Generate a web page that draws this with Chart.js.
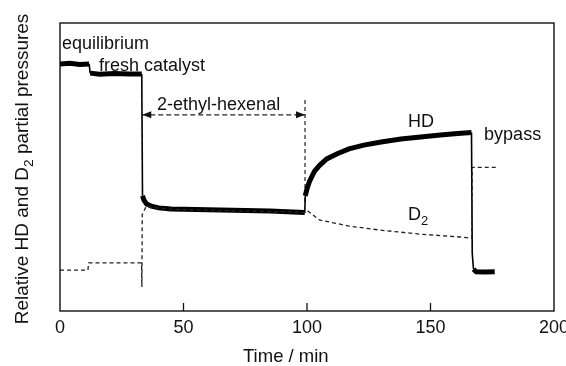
<!DOCTYPE html>
<html>
<head>
<meta charset="utf-8">
<script src="https://cdn.jsdelivr.net/npm/chart.js@4"></script>
<style>
  html, body { margin: 0; padding: 0; background: #fff; }
  #wrap { width: 566px; height: 366px; }
</style>
</head>
<body>
<div id="wrap"><canvas id="chart" width="566" height="366"></canvas></div>
<script>
// values: time in min, pressure in relative units (0-100, no y labels)
const hdTime = [0, 4, 8, 11.8, 12.2, 16, 22, 28, 33.1, 33.4, 34, 35, 37, 40, 45, 55, 70, 85, 99.1,
  99.3, 100, 101, 103, 105, 108, 112, 117, 123, 130, 138, 146, 154, 161, 166.6,
  166.9, 167.4, 168.5, 172, 176];
const hdValue = [85.8, 86.0, 85.6, 85.8, 82.6, 82.2, 82.5, 82.3, 82.3, 40, 38.5, 37.2, 36.4, 35.8, 35.4, 35.2, 35.0, 34.7, 34.2,
  40, 42.5, 45, 48.5, 50.5, 52.8, 54.5, 56.3, 57.6, 58.7, 59.7, 60.4, 61.1, 61.6, 62.0,
  20, 14.5, 13.6, 13.5, 13.6];

const d2Time = [0, 11.3, 11.6, 33.0, 33.15, 33.3, 35, 37, 45, 60, 80, 99.1, 100, 105, 117, 129.5, 145.7, 162, 166.7, 166.9, 176.5];
const d2Value = [14.2, 14.2, 16.7, 16.7, 8.3, 33.5, 36.5, 36.0, 35.3, 35.0, 34.6, 34.2, 35.0, 31.6, 29.5, 28.1, 26.7, 25.7, 25.3, 49.9, 49.9];

const xTicks = [0, 50, 100, 150, 200];

// dosing marker and the double arrow under "2-ethyl-hexenal"
const markerTime = [99.2, 99.2];
const markerValue = [73.3, 37];
const arrowTime = [33.3, 99.2];
const arrowValue = [68.1, 68.1];

const FONT = '"Liberation Sans", Arial, Helvetica, sans-serif';

function pts(ts, vs) {
  return ts.map((t, i) => ({ x: t, y: vs[i] }));
}

// text labels placed in data units (left edge, baseline)
const notes = [
  { text: 'equilibrium', t: 0.8, v: 91.0 },
  { text: 'fresh catalyst', t: 15.8, v: 83.3 },
  { text: '2-ethyl-hexenal', t: 39.3, v: 69.8 },
  { text: 'HD', t: 140.9, v: 63.9 },
  { text: 'bypass', t: 171.7, v: 59.4 }
];

// draws text pieces, some as subscripts, from x=0 on baseline 0
function subText(ctx, parts, size) {
  let x = 0;
  parts.forEach(p => {
    ctx.font = (p.sub ? size * 0.72 : size) + 'px ' + FONT;
    ctx.fillText(p.text, x, p.sub ? size * 0.28 : 0);
    x += ctx.measureText(p.text).width;
  });
  return x;
}
function subWidth(ctx, parts, size) {
  let w = 0;
  parts.forEach(p => {
    ctx.font = (p.sub ? size * 0.72 : size) + 'px ' + FONT;
    w += ctx.measureText(p.text).width;
  });
  return w;
}

const decor = {
  id: 'decor',
  afterDatasetsDraw(chart) {
    const ctx = chart.ctx;
    const a = chart.chartArea;
    const xs = chart.scales.x, ys = chart.scales.y;
    ctx.save();
    ctx.strokeStyle = '#111';
    ctx.fillStyle = '#111';

    // frame
    ctx.lineWidth = 1.4;
    ctx.strokeRect(a.left, a.top, a.right - a.left, a.bottom - a.top);

    // inward ticks on the time axis
    ctx.lineWidth = 1.3;
    xTicks.slice(1, -1).forEach(t => {
      const px = xs.getPixelForValue(t);
      ctx.beginPath();
      ctx.moveTo(px, a.bottom);
      ctx.lineTo(px, a.bottom - 8);
      ctx.stroke();
    });

    // arrowheads
    const ay = ys.getPixelForValue(arrowValue[0]);
    const ax0 = xs.getPixelForValue(arrowTime[0]);
    const ax1 = xs.getPixelForValue(arrowTime[1]);
    ctx.beginPath();
    ctx.moveTo(ax0, ay); ctx.lineTo(ax0 + 9, ay - 3.5); ctx.lineTo(ax0 + 9, ay + 3.5); ctx.closePath();
    ctx.fill();
    ctx.beginPath();
    ctx.moveTo(ax1, ay); ctx.lineTo(ax1 - 9, ay - 3.5); ctx.lineTo(ax1 - 9, ay + 3.5); ctx.closePath();
    ctx.fill();

    // labels
    ctx.textBaseline = 'alphabetic';
    ctx.textAlign = 'left';
    ctx.font = '18px ' + FONT;
    notes.forEach(n => {
      ctx.fillText(n.text, xs.getPixelForValue(n.t), ys.getPixelForValue(n.v));
    });
    ctx.save();
    ctx.translate(xs.getPixelForValue(140.9), ys.getPixelForValue(31.6));
    subText(ctx, [{ text: 'D' }, { text: '2', sub: true }], 18);
    ctx.restore();

    // axis titles
    ctx.font = '18.5px ' + FONT;
    ctx.fillText('Time / min', 243, 362);

    const yTitle = [{ text: 'Relative HD and D' }, { text: '2', sub: true }, { text: ' partial pressures' }];
    const w = subWidth(ctx, yTitle, 19);
    ctx.save();
    ctx.translate(28, 169);
    ctx.rotate(-Math.PI / 2);
    ctx.translate(-w / 2, 0);
    subText(ctx, yTitle, 19);
    ctx.restore();

    ctx.restore();
  }
};

new Chart(document.getElementById('chart'), {
  type: 'scatter',
  data: {
    datasets: [
      {
        label: 'D2',
        data: pts(d2Time, d2Value),
        showLine: true,
        borderColor: '#222',
        borderWidth: 1.3,
        borderDash: [4, 3],
        pointRadius: 0
      },
      {
        label: 'HD',
        data: pts(hdTime, hdValue),
        showLine: true,
        borderColor: '#000',
        borderWidth: 5,
        pointRadius: 0,
        segment: {
          borderWidth: c => Math.abs(c.p1.parsed.x - c.p0.parsed.x) < 0.6 ? 1.6 : 5
        }
      },
      {
        label: 'marker',
        data: pts(markerTime, markerValue),
        showLine: true,
        borderColor: '#222',
        borderWidth: 1.2,
        borderDash: [4, 3],
        pointRadius: 0
      },
      {
        label: 'arrow',
        data: pts(arrowTime, arrowValue),
        showLine: true,
        borderColor: '#222',
        borderWidth: 1.2,
        borderDash: [5, 3],
        pointRadius: 0
      }
    ]
  },
  options: {
    responsive: false,
    animation: false,
    devicePixelRatio: 1,
    layout: { padding: { top: 23, right: 12, left: 0, bottom: 0 } },
    plugins: { legend: { display: false }, tooltip: { enabled: false } },
    scales: {
      x: {
        type: 'linear',
        min: 0,
        max: 200,
        afterBuildTicks: s => { s.ticks = xTicks.map(v => ({ value: v })); },
        afterFit: s => { s.height = 55; s.paddingRight = 0; s.paddingLeft = 0; },
        grid: { display: false, drawTicks: false },
        border: { display: false },
        ticks: { color: '#111', padding: 6, font: { family: FONT, size: 18 }, maxRotation: 0 }
      },
      y: {
        min: 0,
        max: 100,
        afterFit: s => { s.width = 60; },
        grid: { display: false },
        border: { display: false },
        ticks: { display: false }
      }
    }
  },
  plugins: [decor]
});
</script>
</body>
</html>
